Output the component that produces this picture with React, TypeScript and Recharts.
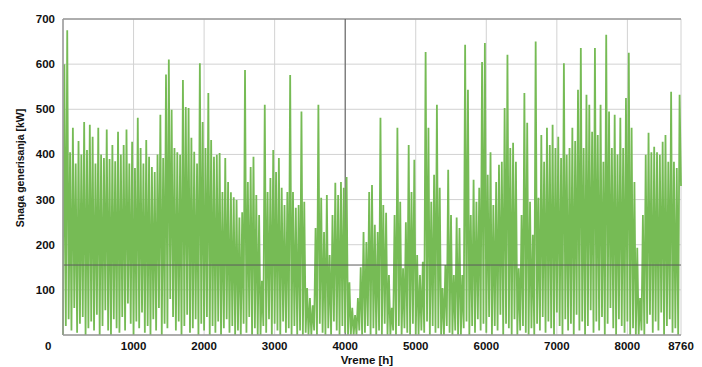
import React from "react";
import { LineChart, Line, XAxis, YAxis, CartesianGrid, ReferenceLine } from "recharts";

// hourly output is sampled in 40 h blocks: a low at the block start, a peak in the middle
const BLOCK_HOURS = 40;

const peaks = [
  600, 675, 405, 459, 380, 430, 400, 472, 410, 466,
  439, 380, 459, 400, 392, 455, 390, 421, 385, 450,
  400, 421, 455, 380, 428, 370, 481, 414, 380, 432,
  395, 372, 361, 400, 488, 392, 577, 610, 499, 414,
  405, 399, 565, 505, 503, 437, 406, 380, 602, 472,
  414, 536, 432, 395, 399, 403, 317, 392, 339, 316,
  305, 299, 260, 272, 587, 339, 372, 395, 310, 266,
  120, 510, 317, 348, 410, 361, 392, 326, 288, 317,
  576, 317, 282, 288, 495, 295, 104, 82, 66, 237,
  510, 304, 228, 310, 177, 266, 337, 310, 339, 326,
  350, 117, 60, 44, 82, 150, 228, 206, 317, 332,
  244, 228, 481, 288, 271, 133, 60, 266, 459, 295,
  148, 250, 421, 317, 388, 177, 133, 162, 627, 459,
  295, 355, 510, 326, 104, 155, 366, 266, 133, 260,
  237, 133, 643, 543, 266, 344, 295, 326, 605, 647,
  355, 405, 288, 339, 377, 384, 503, 621, 414, 426,
  384, 148, 266, 536, 470, 295, 222, 650, 304, 443,
  384, 459, 421, 466, 414, 439, 392, 602, 399, 414,
  459, 430, 543, 636, 414, 532, 510, 450, 636, 443,
  510, 384, 665, 495, 414, 488, 400, 481, 414, 525,
  625, 459, 339, 193, 82, 266, 399, 448, 405, 417,
  405, 399, 428, 443, 384, 539, 384, 370, 532,
];

const lows = [
  0, 20, 35, 10, 60, 5, 25, 40, 0, 15,
  30, 10, 45, 0, 20, 55, 10, 0, 35, 15,
  5, 40, 10, 70, 25, 0, 30, 15, 50, 5,
  20, 0, 35, 10, 60, 0, 25, 15, 80, 40,
  10, 30, 0, 20, 45, 5, 15, 35, 0, 25,
  10, 40, 0, 20, 5, 30, 0, 15, 35, 5,
  20, 0, 10, 0, 25, 5, 40, 0, 15, 0,
  0, 20, 5, 35, 0, 25, 10, 0, 30, 5,
  15, 0, 20, 0, 10, 0, 5, 0, 0, 10,
  0, 25, 5, 0, 15, 0, 30, 10, 0, 20,
  5, 0, 0, 0, 0, 10, 0, 5, 20, 0,
  15, 0, 10, 0, 25, 0, 0, 10, 0, 20,
  0, 15, 5, 0, 25, 0, 0, 10, 5, 30,
  0, 20, 5, 15, 0, 0, 20, 5, 0, 10,
  0, 0, 15, 30, 0, 20, 5, 35, 10, 25,
  5, 40, 0, 20, 10, 45, 0, 25, 15, 0,
  35, 0, 10, 20, 5, 0, 15, 0, 25, 10,
  40, 5, 30, 15, 0, 50, 20, 0, 35, 10,
  25, 0, 45, 10, 30, 0, 20, 55, 5, 30,
  10, 40, 0, 25, 60, 15, 0, 35, 20, 5,
  30, 0, 15, 0, 0, 10, 0, 25, 45, 5,
  30, 10, 50, 0, 20, 35, 5, 15, 0, 330,
];

const hourTicks = [1000, 2000, 3000, 4000, 5000, 6000, 7000, 8000, 8760];
const kwTicks = [0, 100, 200, 300, 400, 500, 600, 700];
const meanKw = 155;

const data: any[] = [];
peaks.forEach((p, i) => {
  data.push({ h: i * BLOCK_HOURS, kw: lows[i] });
  data.push({ h: i * BLOCK_HOURS + BLOCK_HOURS / 2, kw: p });
});
data.push({ h: 8760, kw: lows[peaks.length] });

const font = "'Liberation Sans', Arial, sans-serif";

const YTick = (props: any) => {
  const { y, payload } = props;
  // the zero sits in the corner below the axis
  if (payload.value === 0) {
    return (
      <text x={51.5} y={346} textAnchor="end" dominantBaseline="central"
        fontFamily={font} fontWeight="bold" fontSize={11.5} fill="#111">0</text>
    );
  }
  return (
    <text x={55} y={y} textAnchor="end" dominantBaseline="central"
      fontFamily={font} fontWeight="bold" fontSize={11.5} fill="#111">{payload.value}</text>
  );
};

const XTick = (props: any) => {
  const { x, payload } = props;
  return (
    <text x={x} y={346} textAnchor="middle" dominantBaseline="central"
      fontFamily={font} fontWeight="bold" fontSize={11.5} fill="#111">{payload.value}</text>
  );
};

const yLabel = () => (
  <text transform="translate(20,168) rotate(-90)" textAnchor="middle" dominantBaseline="central"
    fontFamily={font} fontWeight="bold" fontSize={10.5} fill="#111">Snaga generisanja [kW]</text>
);

const xLabel = () => (
  <text x={367} y={360} textAnchor="middle" dominantBaseline="central"
    fontFamily={font} fontWeight="bold" fontSize={11.5} fill="#111">Vreme [h]</text>
);

const App = () => {
  return (
    <div style={{ position: "fixed", left: 0, top: 0, background: "#fff" }}>
      <LineChart width={702} height={367} data={data}
        margin={{ top: 19, right: 21, bottom: 0, left: 0 }}>
        <CartesianGrid stroke="#d2d2d2" strokeWidth={1} />
        <XAxis type="number" dataKey="h" domain={[0, 8760]} ticks={hourTicks}
          height={32} tickLine={false} tick={<XTick />} label={xLabel}
          axisLine={{ stroke: "#9a9a9a", strokeWidth: 1.5 }} interval={0} />
        <YAxis type="number" domain={[0, 700]} ticks={kwTicks} width={63}
          tickLine={false} tick={<YTick />} label={yLabel} interval={0}
          axisLine={{ stroke: "#9a9a9a", strokeWidth: 1.5 }} />
        <ReferenceLine y={700} stroke="#9a9a9a" strokeWidth={1.5} />
        <ReferenceLine x={4000} stroke="#555" strokeWidth={1} />
        <Line type="linear" dataKey="kw" stroke="#76bb55" strokeWidth={1.8}
          strokeLinejoin="miter" dot={false} isAnimationActive={false} />
        <ReferenceLine y={meanKw} stroke="#5c5c5c" strokeWidth={1} />
      </LineChart>
    </div>
  );
};

export default App;
